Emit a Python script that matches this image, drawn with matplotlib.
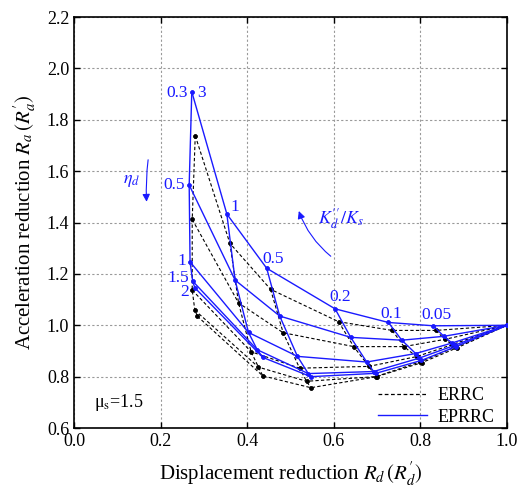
import matplotlib
matplotlib.use("Agg")
import matplotlib.pyplot as plt
from matplotlib.lines import Line2D
import numpy as np

plt.rcParams['font.family'] = ['Liberation Serif', 'DejaVu Serif']
plt.rcParams['mathtext.fontset'] = 'stix'

eta_values = [0.3, 0.5, 1, 1.5, 2]
k_values = [3, 1, 0.5, 0.2, 0.1, 0.05]

# EPRRC (blue): rows = eta, cols = Kd''/Ks
eprrc_rd = [
    [0.272, 0.353, 0.445, 0.603, 0.726, 0.830],
    [0.266, 0.372, 0.475, 0.639, 0.757, 0.854],
    [0.268, 0.403, 0.516, 0.676, 0.789, 0.873],
    [0.274, 0.423, 0.541, 0.692, 0.797, 0.879],
    [0.279, 0.436, 0.547, 0.697, 0.802, 0.882],
]
eprrc_ra = [
    [1.909, 1.433, 1.222, 1.064, 1.011, 0.998],
    [1.546, 1.176, 1.036, 0.953, 0.942, 0.957],
    [1.247, 0.972, 0.879, 0.857, 0.890, 0.931],
    [1.172, 0.905, 0.812, 0.820, 0.872, 0.922],
    [1.146, 0.875, 0.800, 0.813, 0.863, 0.917],
]
# ERRC (black dashed)
errc_rd = [
    [0.280, 0.360, 0.454, 0.611, 0.735, 0.836],
    [0.273, 0.380, 0.483, 0.646, 0.762, 0.856],
    [0.273, 0.409, 0.521, 0.681, 0.791, 0.874],
    [0.279, 0.426, 0.537, 0.697, 0.800, 0.880],
    [0.285, 0.436, 0.547, 0.699, 0.804, 0.884],
]
errc_ra = [
    [1.738, 1.319, 1.140, 1.014, 0.980, 0.980],
    [1.412, 1.087, 0.971, 0.917, 0.917, 0.945],
    [1.137, 0.897, 0.833, 0.840, 0.878, 0.925],
    [1.059, 0.837, 0.782, 0.800, 0.858, 0.915],
    [1.035, 0.803, 0.757, 0.800, 0.855, 0.912],
]
end_point = (1.0, 1.0)

BLUE = '#1a1aff'
fig = plt.figure(figsize=(5.19, 4.92), dpi=100)
ax = fig.add_axes([0.1426, 0.130, 0.8343, 0.8354])

def draw(rd, ra, color, ls, lw):
    rd = np.array(rd); ra = np.array(ra)
    for i in range(rd.shape[0]):
        xs = list(rd[i]) + [end_point[0]]
        ys = list(ra[i]) + [end_point[1]]
        ax.plot(xs, ys, color=color, ls=ls, lw=lw, marker='o', ms=2.2, zorder=3)
    for j in range(rd.shape[1]):
        ax.plot(rd[:, j], ra[:, j], color=color, ls=ls, lw=lw, marker='o', ms=2.2, zorder=3)

draw(errc_rd, errc_ra, 'black', (0, (3, 2)), 0.8)
draw(eprrc_rd, eprrc_ra, BLUE, '-', 1.0)

ax.set_xlim(0, 1.0)
ax.set_ylim(0.6, 2.2)
ax.set_xticks(np.arange(0, 1.01, 0.2))
ax.set_yticks(np.arange(0.6, 2.21, 0.2))
ax.set_xticklabels([f"{v:.1f}" for v in np.arange(0, 1.01, 0.2)])
ax.set_yticklabels([f"{v:.1f}" for v in np.arange(0.6, 2.21, 0.2)])
ax.grid(True, color='#999999', ls=(0, (2, 2)), lw=0.8)
ax.set_axisbelow(True)
ax.tick_params(direction='in', top=True, right=True, labelsize=13, length=4, width=1)
for s in ax.spines.values():
    s.set_linewidth(1.2)

ax.set_xlabel(r"Displacement reduction $R_d\,(R^{\prime}_{d})$", fontsize=15, labelpad=8)
ax.set_ylabel(r"Acceleration reduction $R_a\,(R^{\prime}_{a})$", fontsize=15, labelpad=6)

# eta labels
fs = 12.5
ax.text(0.263, 1.905, "0.3", color=BLUE, fontsize=fs, ha='right', va='center')
ax.text(0.285, 1.905, "3", color=BLUE, fontsize=fs, ha='left', va='center')
ax.text(0.257, 1.546, "0.5", color=BLUE, fontsize=fs, ha='right', va='center')
ax.text(0.259, 1.252, "1", color=BLUE, fontsize=fs, ha='right', va='center')
ax.text(0.266, 1.186, "1.5", color=BLUE, fontsize=fs, ha='right', va='center')
ax.text(0.266, 1.128, "2", color=BLUE, fontsize=fs, ha='right', va='center')
# K labels
ax.text(0.372, 1.46, "1", color=BLUE, fontsize=fs, ha='center', va='center')
ax.text(0.460, 1.258, "0.5", color=BLUE, fontsize=fs, ha='center', va='center')
ax.text(0.614, 1.11, "0.2", color=BLUE, fontsize=fs, ha='center', va='center')
ax.text(0.732, 1.044, "0.1", color=BLUE, fontsize=fs, ha='center', va='center')
ax.text(0.836, 1.040, "0.05", color=BLUE, fontsize=fs, ha='center', va='center')

ax.text(0.133, 1.565, r"$\eta_d$", color=BLUE, fontsize=13, ha='center', va='center')
ax.annotate("", xy=(0.168, 1.470), xytext=(0.172, 1.655),
            arrowprops=dict(arrowstyle='-|>', color=BLUE, lw=0.8,
                            connectionstyle='arc3,rad=0.05', mutation_scale=11))
ax.text(0.563, 1.417, r"$K^{\prime\prime}_{d}/K_s$", color=BLUE, fontsize=13, ha='left', va='center')
ax.annotate("", xy=(0.517, 1.455), xytext=(0.598, 1.262),
            arrowprops=dict(arrowstyle='-|>', color=BLUE, lw=0.8,
                            connectionstyle='arc3,rad=-0.15', mutation_scale=11))

ax.text(0.046, 0.70, r"μ$_{\rm s}$=1.5", fontsize=13, ha='left', va='center')

handles = [Line2D([], [], color='black', ls=(0, (3, 2)), lw=0.9),
           Line2D([], [], color=BLUE, ls='-', lw=1.0)]
ax.legend(handles, ['ERRC', 'EPRRC'], loc='lower right', frameon=False, fontsize=13,
          handlelength=2.7, bbox_to_anchor=(1.0, -0.025), borderaxespad=0.3,
          handletextpad=0.6, labelspacing=0.25)

fig.savefig("out.png", dpi=100)
